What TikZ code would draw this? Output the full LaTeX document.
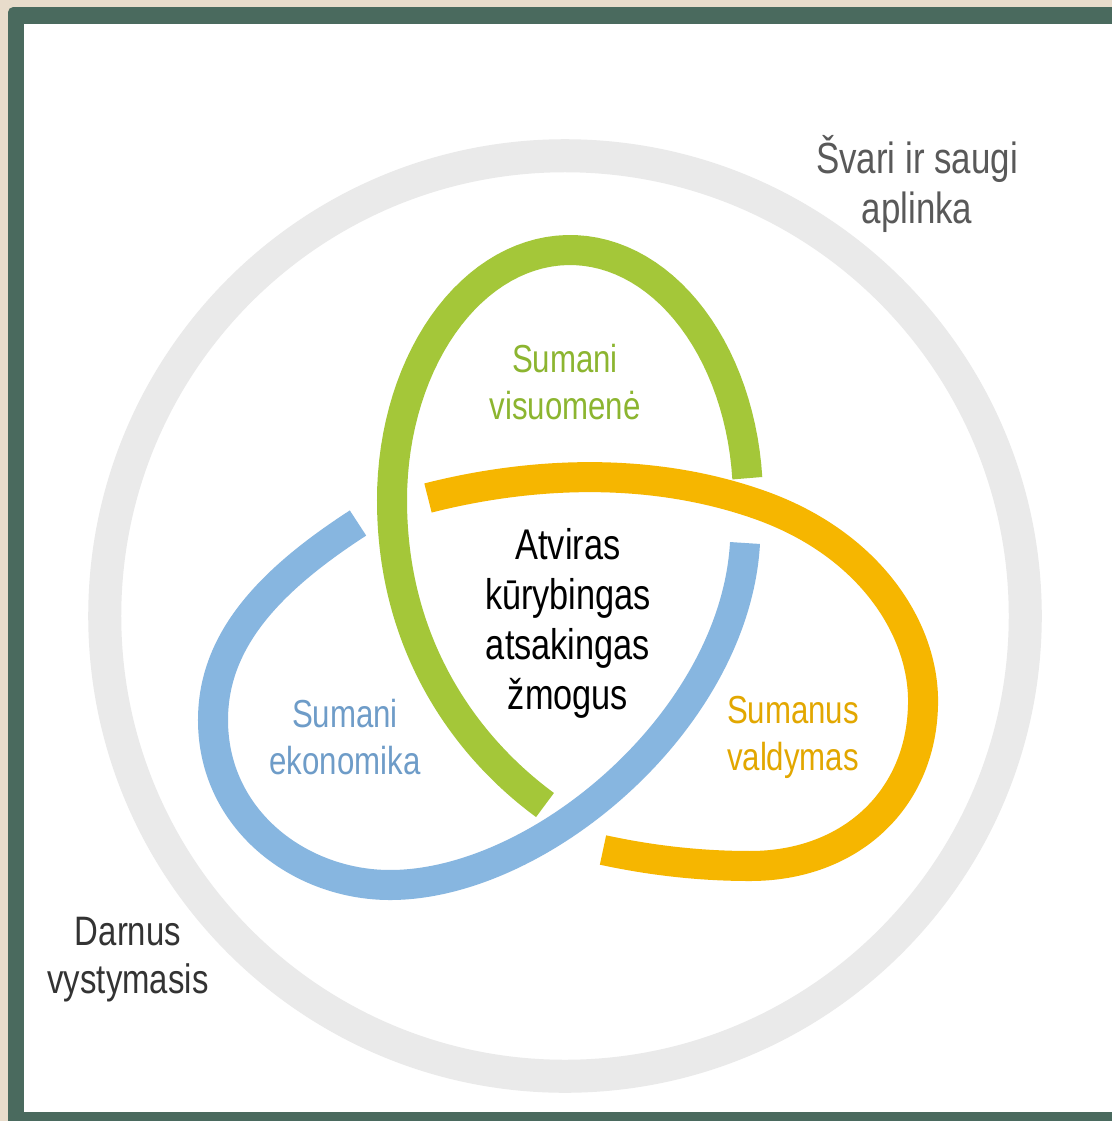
\documentclass[tikz,border=0pt]{standalone}
\usepackage{fontspec}
\setmainfont{Liberation Sans}[FakeStretch=0.8]
\definecolor{bgbeige}{HTML}{E8DCCB}
\definecolor{framegreen}{HTML}{4A6A5E}
\definecolor{ringgray}{HTML}{EAEAEA}
\definecolor{leafgreen}{HTML}{A4C739}
\definecolor{leaforange}{HTML}{F6B600}
\definecolor{leafblue}{HTML}{87B6E0}
\definecolor{textgreen}{HTML}{8CB530}
\definecolor{textorange}{HTML}{E2A700}
\definecolor{textblue}{HTML}{6E9CC8}
\begin{document}
\begin{tikzpicture}[x=0.01cm,y=-0.01cm,
	band/.style={line width=0.3cm},
	lbl/.style={align=center,inner sep=0pt,font=\fontsize{11.1}{13.4}\selectfont},
	biglbl/.style={align=center,inner sep=0pt,font=\fontsize{12.4}{14.3}\selectfont}]
	\useasboundingbox (0,0) rectangle (1112,1121);
	\fill[bgbeige] (0,0) rectangle (1112,1121);
	\begin{scope}
		\clip (0,0) rectangle (1112,1121);
		\fill[framegreen,rounded corners=1.5pt] (8,7) rectangle (1150,1150);
	\end{scope}
	\fill[white] (24,24) rectangle (1112,1112);
	% outer ring
	\draw[ringgray,line width=0.33cm] (565,616) circle (4.6cm);
	% three leaves
	\draw[band,leafgreen] plot[domain=-5:-180,samples=60] ({570+178*cos(\x)},{500+250*sin(\x)})
		.. controls (392,650) and (470,750) .. (545,805);
	\draw[band,leafblue] (358,523) .. controls (270,580) and (213,640) .. (213,720)
		.. controls (213,820) and (300,885) .. (390,885)
		.. controls (540,885) and (735,720) .. (745,543);
	\draw[band,leaforange] (428,498) .. controls (530,472) and (650,466) .. (760,505)
		.. controls (870,544) and (925,630) .. (923,705)
		.. controls (921,800) and (850,866) .. (750,866)
		.. controls (690,866) and (640,858) .. (603,850);
	% labels
	\node[biglbl,text=black!65] (aplinka) at (917,184) {Švari ir saugi\\aplinka};
	\node[biglbl,text=black!80,font=\fontsize{11.7}{13.7}\selectfont] (darnus) at (128,960) {Darnus\\vystymasis};
	\node[biglbl,text=black,font=\fontsize{12.2}{14.2}\selectfont] (zmogus) at (568,623) {Atviras\\kūrybingas\\atsakingas\\žmogus};
	\node[lbl,text=textgreen] (visuomene) at (565,382) {Sumani\\visuomenė};
	\node[lbl,text=textblue] (ekonomika) at (345,737) {Sumani\\ekonomika};
	\node[lbl,text=textorange] (valdymas) at (793,737) {Sumanus\\valdymas};
\end{tikzpicture}
\end{document}
